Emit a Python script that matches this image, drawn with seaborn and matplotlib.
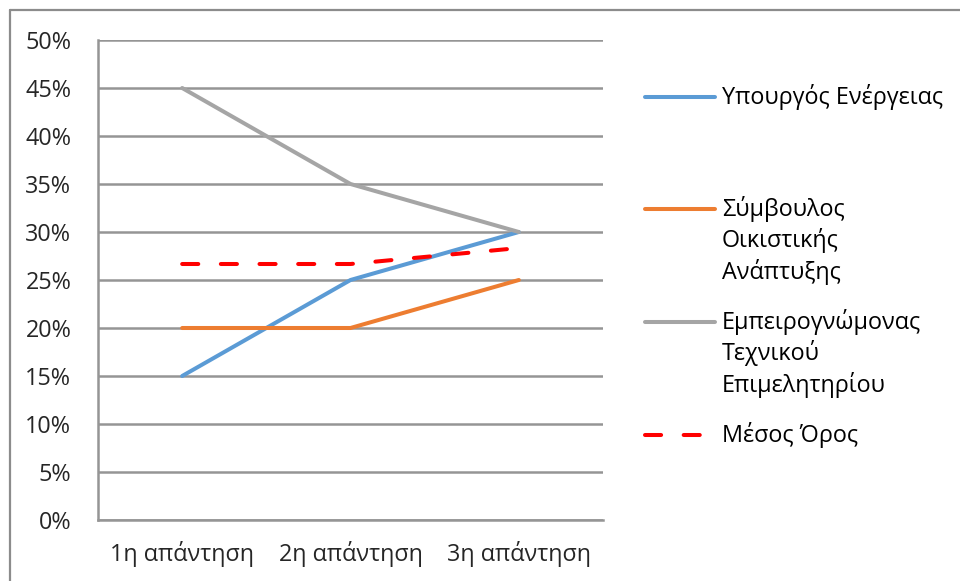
import matplotlib
matplotlib.use("Agg")
import matplotlib.pyplot as plt
from matplotlib.lines import Line2D
from matplotlib.ticker import PercentFormatter, FixedLocator
import pandas as pd
import seaborn as sns

# Survey rounds and share of answers per respondent
rounds = ["1η απάντηση", "2η απάντηση", "3η απάντηση"]
minister = [0.15, 0.25, 0.30]
urban_advisor = [0.20, 0.20, 0.25]
chamber_expert = [0.45, 0.35, 0.30]
average = [(a + b + c) / 3 for a, b, c in zip(minister, urban_advisor, chamber_expert)]

series_names = [
    "Υπουργός Ενέργειας",
    "Σύμβουλος Οικιστικής Ανάπτυξης",
    "Εμπειρογνώμονας Τεχνικού Επιμελητηρίου",
    "Μέσος Όρος",
]
legend_lines = [
    ["Υπουργός Ενέργειας"],
    ["Σύμβουλος", "Οικιστικής", "Ανάπτυξης"],
    ["Εμπειρογνώμονας", "Τεχνικού", "Επιμελητηρίου"],
    ["Μέσος Όρος"],
]
colors = ["#5B9BD5", "#ED7D31", "#A5A5A5", "#FF0000"]

sns.set_style("white")
plt.rcParams["font.family"] = ["Open Sans", "DejaVu Sans"]
FS = 16.8
plt.rcParams["font.size"] = FS

W, H = 960, 581
fig = plt.figure(figsize=(W / 100, H / 100), dpi=100)
ax = fig.add_axes([98 / W, (H - 520) / H, (603 - 98) / W, 480 / H])

grid_col = "#959595"
lw = 2.9

frames = []
for name, vals in zip(series_names, [minister, urban_advisor, chamber_expert, average]):
    frames.append(pd.DataFrame({"round": rounds, "value": vals, "series": name}))
df = pd.concat(frames, ignore_index=True)

for name, col in zip(series_names[:3], colors[:3]):
    sub = df[df["series"] == name]
    sns.lineplot(data=sub, x="round", y="value", ax=ax, color=col, lw=lw,
                 sort=False, zorder=3, legend=False)
sub = df[df["series"] == series_names[3]]
sns.lineplot(data=sub, x="round", y="value", ax=ax, color=colors[3], lw=lw,
             sort=False, zorder=4, legend=False, dashes=False)
mean_line = ax.get_lines()[-1]
mean_line.set_dashes((4.0, 5.6))
mean_line.set_dash_capstyle("round")

ax.set_xlim(-0.5, 2.5)
ax.set_ylim(0, 0.5)
ax.yaxis.set_major_locator(FixedLocator([i * 0.05 for i in range(11)]))
ax.yaxis.set_major_formatter(PercentFormatter(1.0, decimals=0))
ax.grid(axis="y", color=grid_col, lw=1.8)
ax.grid(axis="x", visible=False)
ax.set_axisbelow(True)
for s in ["top", "right"]:
    ax.spines[s].set_visible(False)
for s in ["left", "bottom"]:
    ax.spines[s].set_color(grid_col)
    ax.spines[s].set_linewidth(1.8)
ax.set_xlabel("")
ax.set_ylabel("")

ax.xaxis.set_minor_locator(FixedLocator([-0.5, 0.5, 1.5, 2.5]))
ax.tick_params(axis="x", which="major", length=0, pad=15)
ax.tick_params(axis="x", which="minor", length=7, width=1.8, color=grid_col, direction="out")
ax.tick_params(axis="y", which="major", length=7.2, width=1.8, color=grid_col, direction="out", pad=12)

# Legend with handles aligned to the first line of each entry
handle_y = [97, 209, 322, 435]
line_step = 31.5
for lines, y0, col, i in zip(legend_lines, handle_y, colors, range(4)):
    yf = 1 - y0 / H
    if i == 3:
        h = Line2D([645 / W, 702 / W], [yf, yf], transform=fig.transFigure,
                   color=col, lw=lw, solid_capstyle="round")
        h.set_dashes((4.0, 5.6))
        h.set_dash_capstyle("round")
    else:
        h = Line2D([645 / W, 715 / W], [yf, yf], transform=fig.transFigure,
                   color=col, lw=lw, solid_capstyle="round")
    fig.add_artist(h)
    for k, t in enumerate(lines):
        fig.text(722 / W, 1 - (y0 + k * line_step) / H, t, ha="left", va="center",
                 fontsize=FS, color="#000000")

# Outer chart frame
fig.add_artist(Line2D([10 / W, 1], [1 - 10 / H, 1 - 10 / H], transform=fig.transFigure,
                      color="#8c8c8c", lw=1.6))
fig.add_artist(Line2D([10 / W, 10 / W], [0, 1 - 10 / H], transform=fig.transFigure,
                      color="#8c8c8c", lw=1.6))

fig.savefig("out.png", dpi=100)
